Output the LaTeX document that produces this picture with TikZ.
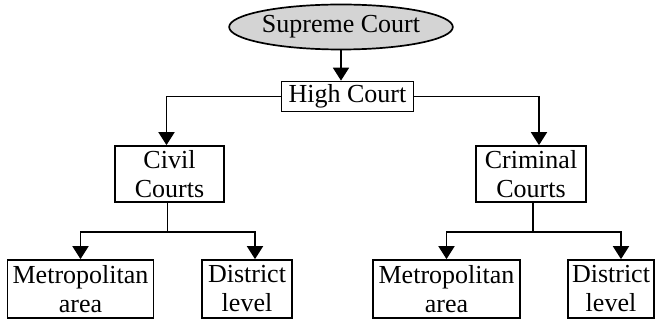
\documentclass[tikz,border=0pt]{standalone}
\usepackage{fontspec}
\setmainfont{Liberation Serif}
\usetikzlibrary{arrows.meta,shapes.geometric}
\tikzset{
  txt/.style={font=\fontsize{26}{29}\selectfont, align=center, inner sep=0pt, text=black},
  boxn/.style={txt, draw=black, line width=1.7pt},
  conn/.style={draw=black, line width=1.8pt},
  arr/.style={conn, -{Triangle[length=13pt,width=16pt]}},
}
\begin{document}
\begin{tikzpicture}[x=1pt,y=-1pt]
\useasboundingbox (0,0) rectangle (657,320);
\node[txt, ellipse, draw=black, line width=1.7pt, fill=black!17, minimum width=192pt, minimum height=45pt] (sc) at (341,27) {Supreme Court};
\node[boxn, minimum width=132pt, minimum height=30pt] (hc) at (347.5,96.5) {High Court};
\node[boxn, minimum width=109pt, minimum height=56pt] (cc) at (169.5,174) {Civil\\Courts};
\node[boxn, minimum width=110pt, minimum height=56pt] (cr) at (531,174) {Criminal\\Courts};
\node[boxn, minimum width=146pt, minimum height=58pt] (ml) at (80.5,289) {Metropolitan\\area};
\node[boxn, minimum width=90pt, minimum height=58pt] (dl) at (247,289) {District\\level};
\node[boxn, minimum width=147pt, minimum height=58pt] (mr) at (446.5,289) {Metropolitan\\area};
\node[boxn, minimum width=86pt, minimum height=58pt] (dr) at (611,289) {District\\level};

\draw[arr] (sc.south) -- (sc.south |- hc.north);
\coordinate (ccin) at ([xshift=-3pt]cc.north);
\coordinate (crin) at ([xshift=8pt]cr.north);
\draw[arr] (hc.west) -| (ccin);
\draw[arr] (hc.east) -| (crin);

\coordinate (cj) at ([xshift=-2pt]cc.south |- 0,232);
\draw[conn] ([xshift=-2pt]cc.south) -- (cj);
\draw[arr] (cj) -| (ml.north);
\coordinate (dlin) at ([xshift=8pt]dl.north);
\draw[arr] (cj) -| (dlin);

\coordinate (rj) at ([xshift=2pt]cr.south |- 0,232);
\draw[conn] ([xshift=2pt]cr.south) -- (rj);
\draw[arr] (rj) -| (mr.north);
\coordinate (drin) at ([xshift=10pt]dr.north);
\draw[arr] (rj) -| (drin);
\end{tikzpicture}
\end{document}
